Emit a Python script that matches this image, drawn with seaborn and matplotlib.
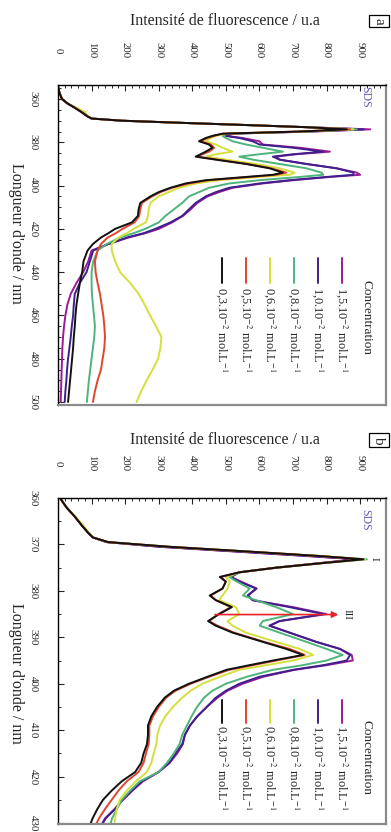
import matplotlib
matplotlib.use("Agg")
import matplotlib.pyplot as plt
from matplotlib.ticker import MultipleLocator
import pandas as pd
import seaborn as sns

# concentrations, drawn from highest to lowest (black ends up on top)
conc_labels = [
    r"1,5.10$^{-2}$ mol.L$^{-1}$",
    r"1,0.10$^{-2}$ mol.L$^{-1}$",
    r"0,8.10$^{-2}$ mol.L$^{-1}$",
    r"0,6.10$^{-2}$ mol.L$^{-1}$",
    r"0,5.10$^{-2}$ mol.L$^{-1}$",
    r"0,3.10$^{-2}$ mol.L$^{-1}$",
]
conc_colors = ["#9a1a98", "#3f1f8c", "#4fb37c", "#d4e03c", "#e0452e", "#111111"]

# ---- panel a : 354 - 500 nm ----
wl_a = [354, 357, 360, 362, 364, 366, 368, 369, 370, 371, 372, 373, 374, 375, 376,
        377, 378, 379.5, 381, 382.5, 384.3, 385.5, 386.6, 388, 390,
        392, 394, 395, 396, 397.5, 399, 401, 403, 405, 408,
        411, 414, 417, 420, 422, 424, 427, 430, 435, 440,
        445, 450, 455, 460, 465, 470, 475, 480, 485, 490, 495, 500]

a_15 = [0, 4, 12, 28, 50, 70, 88, 100, 190, 370, 560, 740, 930, 760, 520,
        500, 550, 600, 610, 720, 810, 710, 650, 660, 740,
        830, 890, 900, 810, 700, 610, 520, 480, 445, 415,
        395, 372, 340, 300, 260, 210, 150, 100, 90, 75,
        55, 38, 28, 22, 18, 15, 13, 12, 11, 10, 9, 8]
a_10 = [0, 4, 12, 28, 50, 70, 88, 100, 190, 370, 560, 740, 910, 750, 510,
        500, 540, 580, 600, 700, 790, 700, 640, 660, 740,
        830, 880, 880, 800, 690, 600, 510, 470, 440, 410,
        390, 370, 335, 290, 255, 205, 150, 105, 95, 85,
        65, 50, 47, 45, 41, 38, 34, 30, 27, 25, 22, 20]
a_08 = [0, 4, 12, 28, 52, 76, 90, 100, 190, 370, 560, 740, 890, 740, 505,
        490, 500, 520, 560, 610, 670, 600, 540, 580, 660,
        740, 785, 790, 720, 600, 510, 450, 420, 390, 370,
        345, 320, 300, 260, 225, 185, 145, 118, 105, 100,
        100, 101, 104, 107, 110, 108, 104, 100, 96, 92, 89, 86]
a_06 = [0, 4, 12, 28, 55, 80, 90, 100, 190, 370, 560, 740, 880, 730, 500,
        470, 455, 440, 470, 490, 520, 470, 440, 500, 590,
        660, 705, 690, 600, 480, 410, 360, 330, 300, 275,
        270, 268, 262, 225, 205, 180, 160, 160, 170, 185,
        215, 240, 258, 274, 292, 308, 305, 298, 282, 264, 248, 234]
a_05 = [0, 4, 12, 28, 50, 70, 88, 100, 190, 370, 560, 740, 870, 720, 490,
        465, 445, 425, 455, 465, 450, 430, 415, 475, 565,
        635, 680, 650, 570, 450, 390, 340, 305, 280, 250,
        245, 242, 228, 192, 172, 148, 128, 118, 110, 112,
        118, 125, 130, 135, 138, 140, 138, 133, 128, 118, 110, 104]
a_03 = [0, 4, 12, 28, 50, 70, 88, 100, 190, 370, 560, 740, 860, 720, 490,
        460, 440, 420, 450, 460, 440, 425, 410, 470, 560,
        630, 670, 640, 560, 440, 380, 335, 300, 275, 245,
        240, 238, 220, 170, 150, 128, 104, 88, 76, 72,
        65, 60, 55, 52, 50, 47, 45, 42, 39, 36, 33, 30]

# ---- panel b : 360 - 430 nm ----
wl_b = [360, 362, 364, 366, 367.5, 368.5, 369.5, 370.5, 371.5, 372.5, 373.2, 374, 375, 376,
        377, 378, 379.5, 381, 382, 383.5, 385, 386.5, 387.5, 389,
        391, 392.5, 393.8, 395, 396, 397, 398.5, 400, 401.5, 403,
        405, 407, 409, 411, 413, 415, 417, 419, 421, 423,
        425, 427, 429, 430.5]

b_15 = [6, 25, 50, 72, 90, 104, 145, 300, 520, 740, 890, 780, 650, 540,
        515, 545, 592, 565, 580, 700, 800, 660, 630, 690,
        770, 840, 875, 878, 800, 705, 611, 550, 505, 475,
        443, 415, 393, 378, 372, 355, 333, 300, 253, 222,
        194, 168, 140, 128]
b_10 = [6, 25, 50, 72, 90, 104, 145, 305, 530, 750, 895, 785, 650, 540,
        515, 540, 590, 565, 580, 690, 790, 660, 630, 690,
        770, 840, 870, 860, 790, 700, 600, 540, 500, 470,
        443, 415, 393, 378, 370, 350, 332, 300, 250, 220,
        192, 170, 142, 130]
b_08 = [6, 25, 50, 74, 92, 104, 150, 330, 560, 780, 920, 795, 655, 540,
        510, 533, 571, 551, 590, 650, 700, 610, 601, 660,
        741, 800, 848, 800, 729, 640, 562, 500, 460, 435,
        414, 398, 384, 370, 362, 345, 325, 300, 244, 215,
        190, 175, 161, 155]
b_06 = [6, 25, 52, 76, 92, 104, 150, 330, 560, 780, 915, 790, 650, 540,
        500, 512, 505, 490, 480, 530, 540, 505, 520, 560,
        650, 720, 760, 700, 620, 540, 482, 430, 395, 370,
        342, 320, 304, 296, 293, 285, 278, 265, 232, 205,
        184, 175, 170, 168]
b_05 = [6, 25, 50, 72, 90, 104, 150, 330, 560, 780, 905, 790, 650, 540,
        485, 500, 490, 455, 470, 515, 478, 450, 475, 525,
        615, 690, 735, 650, 580, 510, 450, 395, 350, 322,
        300, 283, 272, 272, 270, 262, 255, 240, 205, 180,
        160, 140, 122, 112]
b_03 = [6, 25, 50, 72, 90, 104, 150, 330, 560, 780, 910, 790, 650, 540,
        482, 500, 490, 452, 470, 518, 480, 447, 470, 520,
        611, 680, 730, 640, 570, 502, 445, 390, 345, 318,
        295, 278, 268, 268, 265, 255, 248, 230, 190, 160,
        134, 117, 103, 95]


def long_table(wl, series):
    parts = [pd.DataFrame({"wl": wl, "I": vals, "conc": lab})
             for lab, vals in zip(conc_labels, series)]
    return pd.concat(parts, ignore_index=True)


sns.set_style("white")
plt.rcParams["font.family"] = ["Liberation Serif", "DejaVu Serif"]
plt.rcParams["mathtext.fontset"] = "stix"

W, H = 391, 832
fig = plt.figure(figsize=(W / 100, H / 100), dpi=100)


def fx(px):
    return px / W


def fy(py):
    return 1 - py / H


def make_panel(top, bottom, wl, series, ylim, ymajor, letter, legend_y, title_y, xlabel_y, sds_y):
    ax = fig.add_axes([fx(58), fy(bottom), fx(386) - fx(58), fy(top) - fy(bottom)])
    df = long_table(wl, series)
    sns.lineplot(data=df, x="I", y="wl", hue="conc", hue_order=conc_labels,
                 palette=dict(zip(conc_labels, conc_colors)), estimator=None,
                 orient="y", legend=False, linewidth=1.4, ax=ax)
    ax.set_xlim(0, 977)
    ax.set_ylim(*ylim)
    ax.set_xlabel("")
    ax.set_ylabel("")

    ax.xaxis.set_major_locator(MultipleLocator(100))
    ax.xaxis.set_minor_locator(MultipleLocator(20))
    ax.yaxis.set_major_locator(MultipleLocator(ymajor))
    ax.yaxis.set_minor_locator(MultipleLocator(5))
    ax.tick_params(axis="x", which="both", direction="in", top=True, bottom=False,
                   labeltop=True, labelbottom=False, labelrotation=-90, labelsize=7.8, pad=25)
    ax.tick_params(axis="y", which="both", direction="in", left=True, right=False,
                   labelrotation=-90, labelsize=7.8, pad=18)
    ax.tick_params(which="major", length=4, width=0.8)
    ax.tick_params(which="minor", length=2.2, width=0.7)
    for lab in ax.get_xticklabels():
        lab.set_va("center")
    for lab in ax.get_yticklabels():
        lab.set_ha("center")
        lab.set_va("center")

    for side in ["left", "top"]:
        ax.spines[side].set_color("black")
        ax.spines[side].set_linewidth(1.0)
    for side in ["right", "bottom"]:
        ax.spines[side].set_color("#8a8a8a")
        ax.spines[side].set_linewidth(1.6)

    fig.text(fx(225), fy(title_y), "Intensité de fluorescence / u.a",
             ha="center", va="center", fontsize=11.5)
    fig.text(fx(16), fy(xlabel_y), "Longueur d'onde / nm", rotation=-90,
             ha="center", va="center", fontsize=11.5)
    fig.text(fx(379), fy(title_y), letter, rotation=-90, ha="center", va="center",
             fontsize=11, bbox=dict(boxstyle="square,pad=0.2", fc="white", ec="black", lw=0.9))
    fig.text(fx(365), fy(sds_y), "SDS", rotation=-90, ha="center", va="center",
             fontsize=8.5, color="#6a5cb8")

    # legend drawn by hand, rotated like the rest of the figure
    line_top, line_bot, text_top, title_mid = legend_y
    fig.text(fx(366), fy(title_mid), "Concentration", rotation=-90,
             ha="center", va="center", fontsize=9.5)
    for i, (lab, col) in enumerate(zip(conc_labels, conc_colors)):
        xp = 342 - i * 24
        fig.add_artist(plt.Line2D([fx(xp), fx(xp)], [fy(line_top), fy(line_bot)],
                                  color=col, lw=1.4, transform=fig.transFigure))
        fig.text(fx(xp), fy(text_top), lab, rotation=-90, ha="center", va="top",
                 fontsize=8.8)
    return ax


ax_a = make_panel(85, 405, wl_a, [a_15, a_10, a_08, a_06, a_05, a_03],
                  (501.4, 353.5), 20, "a", (258, 283, 287, 318), 21, 233, 97)
ax_b = make_panel(498, 824, wl_b, [b_15, b_10, b_08, b_06, b_05, b_03],
                  (430.2, 360), 10, "b", (700, 723, 725, 757), 440, 673, 520)

# peak markers on panel b
ax_b.annotate("", xy=(835, 385.1), xytext=(468, 385.1),
              arrowprops=dict(arrowstyle="-|>", color="#e8232a", lw=1.2,
                              mutation_scale=9, shrinkA=0, shrinkB=0))
ax_b.text(860, 385.1, "III", rotation=-90, ha="center", va="center", fontsize=8)
ax_b.text(942, 373.2, "I", rotation=-90, ha="center", va="center", fontsize=8)

fig.savefig("out.png", dpi=100)
